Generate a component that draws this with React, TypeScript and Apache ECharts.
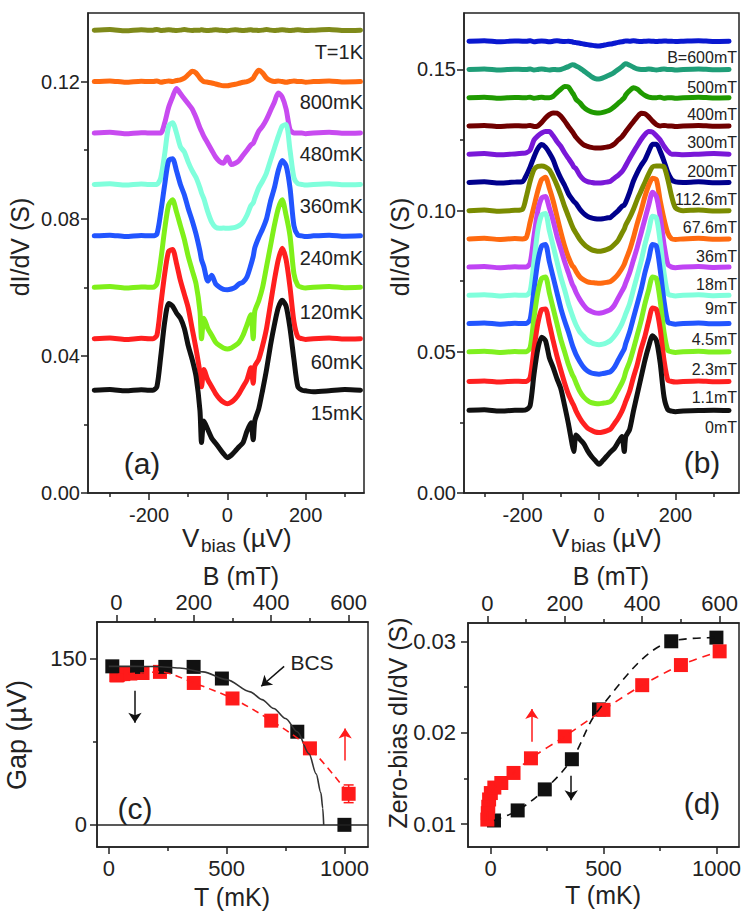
import React, { useEffect, useRef } from "react";
import * as echarts from "echarts";

const FONT = "'Liberation Sans', Arial, Helvetica, sans-serif";
const INK = "#222222";

// ---------- shared bias grid (µV) for spectra panels (a) and (b) ----------
const VBIAS = [
  -340, -300, -260, -220, -200,
  -190, -180, -170, -160, -150, -140, -130, -120, -110, -100, -90, -80, -70, -66, -60,
  -50, -40, -30, -20, -10, 0, 10, 20, 30, 40, 50,
  60, 66, 70, 80, 90, 100, 110, 120, 130, 140, 150, 160, 170, 180, 190,
  200, 220, 260, 300, 340,
];

// ---------- panel (a): dI/dV vs bias at several temperatures ----------
const A_15MK = [
  0.030, 0.0302, 0.0298, 0.0301, 0.030,
  0.030, 0.031, 0.040, 0.050, 0.0553, 0.0545, 0.0525, 0.051, 0.048, 0.043, 0.039, 0.034, 0.024, 0.0147, 0.021,
  0.0185, 0.016, 0.0145, 0.013, 0.0115, 0.0103, 0.011, 0.0122, 0.0135, 0.0147, 0.018,
  0.0205, 0.0155, 0.021, 0.0245, 0.030, 0.036, 0.043, 0.049, 0.054, 0.0562, 0.0545, 0.048, 0.039, 0.031, 0.030,
  0.0298, 0.0295, 0.0298, 0.0302, 0.030,
];
const A_60MK = [
  0.045, 0.0452, 0.0448, 0.0451, 0.045,
  0.045, 0.046, 0.055, 0.064, 0.0705, 0.071, 0.067, 0.062, 0.058, 0.054, 0.048, 0.042, 0.035, 0.031, 0.036,
  0.033, 0.031, 0.029, 0.0275, 0.0265, 0.026, 0.0265, 0.0275, 0.029, 0.031, 0.033,
  0.0365, 0.032, 0.037, 0.039, 0.043, 0.048, 0.055, 0.062, 0.068, 0.0714, 0.068, 0.060, 0.050, 0.0455, 0.045,
  0.0448, 0.045, 0.0452, 0.0449, 0.045,
];
const A_120MK = [
  0.060, 0.0602, 0.0598, 0.0601, 0.060,
  0.060, 0.061, 0.068, 0.077, 0.084, 0.0855, 0.082, 0.078, 0.074, 0.069, 0.065, 0.061, 0.053, 0.045, 0.051,
  0.048, 0.046, 0.044, 0.043, 0.0423, 0.042, 0.0423, 0.043, 0.044, 0.046, 0.049,
  0.052, 0.045, 0.053, 0.056, 0.060, 0.066, 0.072, 0.078, 0.083, 0.0855, 0.081, 0.075, 0.064, 0.0605, 0.060,
  0.0598, 0.060, 0.0602, 0.0599, 0.060,
];
const A_240MK = [
  0.075, 0.0752, 0.0748, 0.0751, 0.075,
  0.075, 0.0755, 0.082, 0.090, 0.097, 0.0975, 0.094, 0.090, 0.087, 0.083, 0.0795, 0.0755, 0.0705, 0.068, 0.066,
  0.0618, 0.0635, 0.061, 0.060, 0.0594, 0.0593, 0.0595, 0.060, 0.061, 0.0615, 0.063,
  0.0665, 0.069, 0.0715, 0.0745, 0.077, 0.080, 0.085, 0.089, 0.094, 0.097, 0.0955, 0.089, 0.078, 0.0752, 0.075,
  0.0748, 0.075, 0.0752, 0.0749, 0.075,
];
const A_360MK = [
  0.090, 0.0902, 0.0898, 0.0901, 0.090,
  0.090, 0.090, 0.092, 0.099, 0.107, 0.108, 0.105, 0.101, 0.0995, 0.0965, 0.094, 0.092, 0.089, 0.0875, 0.0858,
  0.082, 0.079, 0.0775, 0.0772, 0.0773, 0.0772, 0.0773, 0.0775, 0.078, 0.079, 0.081,
  0.0838, 0.0846, 0.086, 0.089, 0.091, 0.0934, 0.097, 0.1005, 0.104, 0.107, 0.1075, 0.100, 0.092, 0.0902, 0.090,
  0.0898, 0.090, 0.0902, 0.0899, 0.090,
];
const A_480MK = [
  0.105, 0.1052, 0.1048, 0.1051, 0.105,
  0.105, 0.105, 0.105, 0.108, 0.1125, 0.1155, 0.118, 0.1165, 0.115, 0.1135, 0.112, 0.1095, 0.1065, 0.1055, 0.104,
  0.102, 0.100, 0.098, 0.0967, 0.0962, 0.098, 0.0958, 0.0962, 0.097, 0.0985, 0.100,
  0.1015, 0.102, 0.103, 0.1055, 0.107, 0.109, 0.1115, 0.114, 0.1167, 0.1155, 0.112, 0.106, 0.105, 0.105, 0.105,
  0.1048, 0.105, 0.1052, 0.1049, 0.105,
];
const A_800MK = [
  0.120, 0.1202, 0.1198, 0.1201, 0.120,
  0.120, 0.1202, 0.1198, 0.120, 0.1202, 0.120, 0.1203, 0.1205, 0.121, 0.122, 0.123, 0.1225, 0.121, 0.1205, 0.120,
  0.1198, 0.1196, 0.1193, 0.119, 0.1188, 0.1188, 0.119, 0.1192, 0.1195, 0.1198, 0.120,
  0.1205, 0.121, 0.1218, 0.1233, 0.1225, 0.121, 0.1203, 0.120, 0.1202, 0.120, 0.1198, 0.120, 0.1202, 0.120, 0.120,
  0.1198, 0.120, 0.1202, 0.1199, 0.120,
];
const A_1K = [
  0.135, 0.1352, 0.1348, 0.1351, 0.135,
  0.135, 0.1352, 0.1349, 0.135, 0.1351, 0.135, 0.1349, 0.135, 0.1352, 0.135, 0.1349, 0.135, 0.135, 0.1351, 0.135,
  0.1349, 0.135, 0.1351, 0.135, 0.1349, 0.1348, 0.135, 0.1351, 0.135, 0.1349, 0.135,
  0.1351, 0.135, 0.135, 0.1349, 0.135, 0.1352, 0.135, 0.1349, 0.135, 0.1351, 0.135, 0.1349, 0.135, 0.1351, 0.135,
  0.1349, 0.135, 0.1352, 0.1349, 0.135,
];
const A_SERIES = [A_15MK, A_60MK, A_120MK, A_240MK, A_360MK, A_480MK, A_800MK, A_1K];
const A_NAMES = ["15mK", "60mK", "120mK", "240mK", "360mK", "480mK", "800mK", "T=1K"];
const A_COLORS = ["#111111", "#ff1f1f", "#7ff01a", "#2255ff", "#80ffdc", "#c84bf0", "#ff6a10", "#7f8a1a"];

// ---------- panel (b): dI/dV vs bias at several fields ----------
const B_0MT = [
  0.0293, 0.0295, 0.0290, 0.0293, 0.0293,
  0.0295, 0.031, 0.042, 0.051, 0.0552, 0.054, 0.048, 0.0445, 0.0405, 0.037, 0.031, 0.0245, 0.017, 0.0147, 0.0205,
  0.019, 0.0175, 0.015, 0.013, 0.0115, 0.0102, 0.0115, 0.013, 0.0145, 0.0158, 0.018,
  0.020, 0.0147, 0.020, 0.0225, 0.029, 0.035, 0.041, 0.047, 0.052, 0.0557, 0.054, 0.046, 0.034, 0.0295, 0.029,
  0.0288, 0.029, 0.0292, 0.0293, 0.0292,
];
const B_1MT = [
  0.0395, 0.0397, 0.0393, 0.0396, 0.0395,
  0.0395, 0.041, 0.051, 0.060, 0.065, 0.0652, 0.060, 0.054, 0.0485, 0.0436, 0.039, 0.035, 0.032, 0.031, 0.029,
  0.0265, 0.0245, 0.023, 0.0222, 0.0216, 0.0214, 0.0216, 0.022, 0.0226, 0.0245, 0.0265,
  0.029, 0.031, 0.0325, 0.036, 0.041, 0.0455, 0.051, 0.0555, 0.061, 0.0655, 0.065, 0.058, 0.047, 0.040, 0.0395,
  0.0393, 0.0395, 0.0397, 0.0394, 0.0395,
];
const B_2MT = [
  0.050, 0.0502, 0.0498, 0.0501, 0.050,
  0.050, 0.0515, 0.062, 0.071, 0.076, 0.0765, 0.071, 0.0655, 0.060, 0.0545, 0.050, 0.0455, 0.042, 0.041, 0.039,
  0.036, 0.034, 0.0328, 0.032, 0.0317, 0.0316, 0.0318, 0.032, 0.0324, 0.034, 0.0365,
  0.039, 0.041, 0.043, 0.0465, 0.051, 0.056, 0.061, 0.067, 0.072, 0.0765, 0.076, 0.068, 0.057, 0.0505, 0.050,
  0.0498, 0.050, 0.0502, 0.0499, 0.050,
];
const B_4MT = [
  0.060, 0.0602, 0.0598, 0.0601, 0.060,
  0.060, 0.0615, 0.072, 0.082, 0.0875, 0.088, 0.082, 0.0765, 0.071, 0.0655, 0.061, 0.057, 0.0525, 0.051, 0.049,
  0.0465, 0.0445, 0.0432, 0.0425, 0.0422, 0.0421, 0.0423, 0.0426, 0.043, 0.0445, 0.047,
  0.0495, 0.051, 0.053, 0.057, 0.062, 0.067, 0.072, 0.078, 0.083, 0.088, 0.0875, 0.079, 0.068, 0.0605, 0.060,
  0.0598, 0.060, 0.0602, 0.0599, 0.060,
];
const B_9MT = [
  0.070, 0.0702, 0.0698, 0.0701, 0.070,
  0.070, 0.0715, 0.082, 0.093, 0.0985, 0.099, 0.093, 0.0875, 0.082, 0.0765, 0.072, 0.067, 0.063, 0.0615, 0.0595,
  0.057, 0.0555, 0.054, 0.0532, 0.0527, 0.0525, 0.0527, 0.0532, 0.054, 0.0555, 0.0575,
  0.060, 0.062, 0.0635, 0.067, 0.072, 0.077, 0.082, 0.088, 0.093, 0.098, 0.0975, 0.089, 0.078, 0.0705, 0.070,
  0.0698, 0.070, 0.0702, 0.0699, 0.070,
];
const B_18MT = [
  0.080, 0.0802, 0.0798, 0.0801, 0.080,
  0.080, 0.0815, 0.091, 0.100, 0.1045, 0.105, 0.101, 0.0965, 0.091, 0.0865, 0.082, 0.078, 0.074, 0.073, 0.071,
  0.0685, 0.0665, 0.065, 0.0643, 0.0638, 0.0637, 0.0639, 0.0644, 0.065, 0.0665, 0.069,
  0.0715, 0.073, 0.0745, 0.078, 0.0825, 0.087, 0.092, 0.097, 0.102, 0.1065, 0.105, 0.098, 0.088, 0.081, 0.080,
  0.0798, 0.080, 0.0802, 0.0799, 0.080,
];
const B_36MT = [
  0.090, 0.0902, 0.0898, 0.0901, 0.090,
  0.0905, 0.096, 0.1015, 0.107, 0.111, 0.1118, 0.108, 0.1035, 0.098, 0.0925, 0.0875, 0.0835, 0.0805, 0.080, 0.0785,
  0.0765, 0.0755, 0.0748, 0.0745, 0.0744, 0.0743, 0.0744, 0.0746, 0.0749, 0.076, 0.0775,
  0.0795, 0.081, 0.0825, 0.086, 0.0905, 0.0955, 0.100, 0.105, 0.109, 0.1115, 0.111, 0.1035, 0.097, 0.092, 0.090,
  0.0898, 0.090, 0.0902, 0.0899, 0.090,
];
const B_67MT = [
  0.100, 0.1002, 0.0998, 0.1001, 0.1005,
  0.105, 0.1105, 0.1145, 0.1157, 0.1158, 0.1155, 0.1145, 0.112, 0.109, 0.1055, 0.1015, 0.098, 0.0945, 0.0933, 0.092,
  0.0898, 0.0882, 0.087, 0.0862, 0.0858, 0.0856, 0.0858, 0.0862, 0.0868, 0.088, 0.0895,
  0.092, 0.0935, 0.095, 0.0975, 0.1005, 0.104, 0.107, 0.110, 0.113, 0.1155, 0.1158, 0.1158, 0.1155, 0.111, 0.105,
  0.101, 0.100, 0.1002, 0.0999, 0.100,
];
const B_112MT = [
  0.110, 0.1102, 0.1098, 0.1101, 0.1103,
  0.1125, 0.1155, 0.119, 0.122, 0.1234, 0.1225, 0.1205, 0.118, 0.1145, 0.1115, 0.109, 0.106, 0.104, 0.1033, 0.1025,
  0.1005, 0.099, 0.098, 0.0974, 0.0971, 0.097, 0.0971, 0.0974, 0.0976, 0.0988, 0.100,
  0.1015, 0.102, 0.103, 0.1065, 0.1105, 0.1135, 0.116, 0.118, 0.121, 0.1235, 0.1235, 0.121, 0.1175, 0.1135, 0.111,
  0.1102, 0.110, 0.1102, 0.1099, 0.110,
];
const B_200MT = [
  0.120, 0.1202, 0.1198, 0.1201, 0.1203,
  0.1205, 0.1215, 0.125, 0.1265, 0.1275, 0.128, 0.128, 0.1265, 0.1245, 0.1228, 0.1205, 0.1185, 0.1165, 0.1155, 0.1148,
  0.1125, 0.111, 0.1103, 0.110, 0.1098, 0.1098, 0.1099, 0.1101, 0.1104, 0.1115, 0.1125,
  0.1138, 0.115, 0.116, 0.1185, 0.1208, 0.123, 0.1252, 0.127, 0.128, 0.1278, 0.1265, 0.125, 0.1228, 0.121, 0.120,
  0.120, 0.1198, 0.120, 0.1202, 0.120,
];
const B_300MT = [
  0.130, 0.1302, 0.1298, 0.1301, 0.130,
  0.130, 0.1302, 0.1298, 0.130, 0.1312, 0.1328, 0.134, 0.1346, 0.1345, 0.1335, 0.1318, 0.1298, 0.128, 0.1272, 0.126,
  0.1245, 0.1233, 0.1228, 0.1224, 0.1222, 0.1222, 0.1223, 0.1225, 0.1228, 0.1236, 0.125,
  0.1262, 0.1272, 0.128, 0.1298, 0.1315, 0.1332, 0.1345, 0.1343, 0.1332, 0.1317, 0.1305, 0.130, 0.1302, 0.130, 0.130,
  0.1298, 0.130, 0.1302, 0.1299, 0.130,
];
const B_400MT = [
  0.140, 0.1402, 0.1398, 0.1401, 0.140,
  0.140, 0.1402, 0.1398, 0.140, 0.1402, 0.140, 0.140, 0.1405, 0.1418, 0.143, 0.144, 0.1438, 0.1418, 0.141, 0.1394,
  0.1382, 0.1366, 0.1356, 0.135, 0.1347, 0.1346, 0.1348, 0.1352, 0.1358, 0.1368, 0.138,
  0.1392, 0.140, 0.141, 0.1425, 0.1435, 0.143, 0.1418, 0.1408, 0.1402, 0.140, 0.140, 0.1402, 0.1398, 0.140, 0.140,
  0.1398, 0.140, 0.1402, 0.1399, 0.140,
];
const B_500MT = [
  0.150, 0.1502, 0.1498, 0.1501, 0.150,
  0.150, 0.1502, 0.1498, 0.150, 0.1502, 0.150, 0.1498, 0.150, 0.1499, 0.150, 0.1505, 0.151, 0.1517, 0.1516, 0.1512,
  0.1505, 0.1495, 0.1485, 0.1475, 0.1468, 0.1466, 0.147, 0.1476, 0.1482, 0.149, 0.150,
  0.151, 0.1518, 0.152, 0.1515, 0.1508, 0.1502, 0.150, 0.150, 0.1502, 0.150, 0.1498, 0.150, 0.1502, 0.150, 0.150,
  0.1498, 0.150, 0.1502, 0.1499, 0.150,
];
const B_600MT = [
  0.160, 0.1602, 0.1598, 0.1601, 0.160,
  0.160, 0.1602, 0.1598, 0.160, 0.1601, 0.160, 0.1598, 0.160, 0.1602, 0.160, 0.1599, 0.160, 0.1598, 0.1596, 0.1595,
  0.1593, 0.159, 0.1588, 0.1586, 0.1584, 0.1583, 0.1585, 0.1588, 0.159, 0.1593, 0.1596,
  0.1598, 0.160, 0.1601, 0.160, 0.1602, 0.160, 0.1599, 0.160, 0.1601, 0.160, 0.1599, 0.160, 0.1601, 0.160, 0.160,
  0.1599, 0.160, 0.1602, 0.1599, 0.160,
];
const B_SERIES = [B_0MT, B_1MT, B_2MT, B_4MT, B_9MT, B_18MT, B_36MT, B_67MT, B_112MT, B_200MT, B_300MT, B_400MT, B_500MT, B_600MT];
const B_NAMES = ["0mT", "1.1mT", "2.3mT", "4.5mT", "9mT", "18mT", "36mT", "67.6mT", "112.6mT", "200mT", "300mT", "400mT", "500mT", "B=600mT"];
const B_COLORS = ["#111111", "#ff2020", "#80f020", "#2255ff", "#80ffdc", "#c044f4", "#ff6a10", "#7a8c00", "#00008c", "#7a18d8", "#700000", "#1f9a00", "#1f9e78", "#0a18d0"];

// ---------- panel (c): gap vs T (black) and vs B (red) ----------
const C_T = [15, 120, 240, 360, 480, 800, 1000];
const C_GAP_T = [143, 142.5, 142.5, 142.5, 132, 84, 0];
const C_B = [0, 1.1, 2.3, 4.5, 9, 18, 36, 67.6, 112.6, 200, 300, 400, 500, 600];
const C_GAP_B = [135, 135, 135, 135.5, 136, 136, 136.5, 137, 138, 128, 114, 94, 69, 28];
const C_ERR_B = [[600, 28, 8]];
const BCS_T = [0, 100, 200, 300, 400, 500, 600, 650, 700, 750, 800, 850, 880, 900, 908, 912];
const BCS_GAP = [143, 143, 142.8, 141.5, 138, 131, 120, 113, 105, 96, 84, 64, 46, 29, 15, 0];

// ---------- panel (d): zero-bias conductance ----------
const D_T = [15, 120, 240, 360, 480, 800, 1000];
const D_G_T = [0.0104, 0.0115, 0.0138, 0.0171, 0.02255, 0.030, 0.0304];
const D_B = [0, 1.1, 2.3, 4.5, 9, 18, 36, 67.6, 112.6, 200, 300, 400, 500, 600];
const D_G_B = [0.0105, 0.0112, 0.0119, 0.0127, 0.0134, 0.014, 0.0145, 0.0156, 0.0172, 0.0196, 0.0225, 0.0252, 0.0274, 0.0289];

// ---------- tick values ----------
const V_TICKS = [-200, 0, 200];
const V_MINOR = [-300, -100, 100, 300];
const A_Y_TICKS = [0, 0.04, 0.08, 0.12];
const A_Y_MINOR = [0.02, 0.06, 0.1];
const B_Y_TICKS = [0, 0.05, 0.1, 0.15];
const B_Y_MINOR = [0.025, 0.075, 0.125];
const T_TICKS = [0, 500, 1000];
const T_MINOR = [250, 750];
const BF_TICKS = [0, 200, 400, 600];
const BF_MINOR = [100, 300, 500];
const C_Y_TICKS = [0, 150];
const C_Y_MINOR = [75];
const D_Y_TICKS = [0.01, 0.02, 0.03];
const D_Y_MINOR = [0.015, 0.025];

// ---------- layout (pixels) ----------
const A_LABEL_Y = [413, 362, 312, 258, 206, 154, 102, 52];
const B_LABEL_Y = [427, 397, 369, 339, 308, 284, 256, 227.5, 199, 171, 142.5, 114, 87.5, 57];

function major(gridIndex: number, position: string, min: number, max: number, ticks: number[], fontSize: number, margin: number, fmt: (v: number) => string) {
  return {
    type: "value", gridIndex, position, min, max,
    axisLine: { show: true, onZero: false, lineStyle: { color: INK, width: 1.5 } },
    axisTick: { show: true, inside: false, length: 7, customValues: ticks, lineStyle: { color: INK, width: 1.5 } },
    axisLabel: { show: true, customValues: ticks, formatter: fmt, color: INK, fontSize, fontFamily: FONT, margin },
    splitLine: { show: false },
  };
}
function minor(gridIndex: number, position: string, min: number, max: number, ticks: number[]) {
  return {
    type: "value", gridIndex, position, min, max,
    axisLine: { show: false, onZero: false },
    axisTick: { show: true, inside: false, length: 4, customValues: ticks, lineStyle: { color: INK, width: 1.5 } },
    axisLabel: { show: false },
    splitLine: { show: false },
  };
}

const f2 = (v: number) => v.toFixed(2);
const f0 = (v: number) => String(Math.round(v));

function txt(text: string, x: number, y: number, size: number, align = "center", rot = 0) {
  return {
    type: "text", x, y, rotation: rot, z: 100, silent: true,
    style: { text, fill: INK, fontSize: size, fontFamily: FONT, align, verticalAlign: "middle" },
  };
}

function arrowLine(p1: number[], p2: number[], color: string) {
  return {
    silent: true, symbol: ["none", "arrow"], symbolSize: 10, label: { show: false },
    lineStyle: { color, width: 1.5, type: "solid", opacity: 1 }, emphasis: { disabled: true },
    data: [[{ coord: p1 }, { coord: p2 }]],
  };
}

function buildOption() {
  const grids = [
    { left: 88, top: 13, width: 276, height: 480 },
    { left: 464, top: 13, width: 275, height: 480 },
    { left: 97, top: 622, width: 271, height: 225 },
    { left: 468, top: 623, width: 271, height: 224 },
  ].map((g) => ({ ...g, show: true, borderColor: INK, borderWidth: 1.5, backgroundColor: "transparent" }));

  const xAxis = [
    major(0, "bottom", -356, 349, V_TICKS, 20, 12, f0),
    minor(0, "bottom", -356, 349, V_MINOR),
    major(1, "bottom", -353, 366, V_TICKS, 20, 12, f0),
    minor(1, "bottom", -353, 366, V_MINOR),
    major(2, "bottom", -50, 1100, T_TICKS, 22, 10, f0),
    minor(2, "bottom", -50, 1100, T_MINOR),
    major(2, "top", -50, 650, BF_TICKS, 22, 9, f0),
    minor(2, "top", -50, 650, BF_MINOR),
    major(3, "bottom", -100, 1100, T_TICKS, 22, 10, f0),
    minor(3, "bottom", -100, 1100, T_MINOR),
    major(3, "top", -50, 650, BF_TICKS, 22, 9, f0),
    minor(3, "top", -50, 650, BF_MINOR),
  ];
  const yAxis = [
    major(0, "left", 0, 0.14, A_Y_TICKS, 20, 8, f2),
    minor(0, "left", 0, 0.14, A_Y_MINOR),
    major(1, "left", 0, 0.17, B_Y_TICKS, 20, 8, f2),
    minor(1, "left", 0, 0.17, B_Y_MINOR),
    major(2, "left", -20, 183, C_Y_TICKS, 22, 10, f0),
    minor(2, "left", -20, 183, C_Y_MINOR),
    major(3, "left", 0.0075, 0.032, D_Y_TICKS, 22, 12, f2),
    minor(3, "left", 0.0075, 0.032, D_Y_MINOR),
  ];

  const series: any[] = [];
  const spectrum = (vals: number[], color: string, xi: number, yi: number, name: string) => ({
    type: "line", name, xAxisIndex: xi, yAxisIndex: yi,
    data: VBIAS.map((v, i) => [v, vals[i]]),
    symbol: "none", showSymbol: false, smooth: 0.25, silent: true,
    lineStyle: { color, width: 5, cap: "round", join: "round", opacity: 1 },
  });
  for (let i = A_SERIES.length - 1; i >= 0; i--) series.push(spectrum(A_SERIES[i], A_COLORS[i], 0, 0, "a" + A_NAMES[i]));
  for (let i = B_SERIES.length - 1; i >= 0; i--) series.push(spectrum(B_SERIES[i], B_COLORS[i], 2, 2, "b" + B_NAMES[i]));

  const RED = "#ff1a1a";
  const BLK = "#111111";
  const sq = (color: string) => ({ color, opacity: 1 });
  // panel (c)
  series.push({
    type: "line", name: "BCS", xAxisIndex: 4, yAxisIndex: 4, silent: true,
    data: BCS_T.map((t, i) => [t, BCS_GAP[i]]), symbol: "none", smooth: 0.3, smoothMonotone: "x",
    lineStyle: { color: "#333", width: 1.6 },
    markLine: {
      silent: true, symbol: ["none", "none"], label: { show: false }, emphasis: { disabled: true },
      lineStyle: { color: INK, width: 1.5, type: "solid", opacity: 1 },
      data: [{ yAxis: 0 }],
    },
  });
  series.push({
    type: "line", name: "bcsArrow", xAxisIndex: 4, yAxisIndex: 4, data: [], silent: true,
    markLine: arrowLine([744, 143], [647, 125], BLK),
  });
  series.push({
    type: "line", name: "cRedLine", xAxisIndex: 6, yAxisIndex: 4, silent: true,
    data: C_B.map((b, i) => [b, C_GAP_B[i]]), symbol: "none", smooth: 0.3,
    lineStyle: { color: RED, width: 1.6, type: [7, 5] },
  });
  series.push({
    type: "custom", name: "cErr", xAxisIndex: 6, yAxisIndex: 4, silent: true, data: C_ERR_B,
    renderItem: (params: any, api: any) => {
      const x = api.value(0), y = api.value(1), e = api.value(2);
      const hi = api.coord([x, y + e]);
      const lo = api.coord([x, y - e]);
      const w = 5;
      const st = { stroke: RED, lineWidth: 1.5 };
      return {
        type: "group", children: [
          { type: "line", shape: { x1: hi[0], y1: hi[1], x2: lo[0], y2: lo[1] }, style: st },
          { type: "line", shape: { x1: hi[0] - w, y1: hi[1], x2: hi[0] + w, y2: hi[1] }, style: st },
          { type: "line", shape: { x1: lo[0] - w, y1: lo[1], x2: lo[0] + w, y2: lo[1] }, style: st },
        ],
      };
    },
  });
  series.push({
    type: "scatter", name: "cRed", xAxisIndex: 6, yAxisIndex: 4, silent: true,
    data: C_B.map((b, i) => [b, C_GAP_B[i]]), symbol: "rect", symbolSize: 14, itemStyle: sq(RED),
    markLine: arrowLine([591, 58], [591, 87], RED),
  });
  series.push({
    type: "scatter", name: "cBlack", xAxisIndex: 4, yAxisIndex: 4, silent: true,
    data: C_T.map((t, i) => [t, C_GAP_T[i]]), symbol: "rect", symbolSize: 14, itemStyle: sq(BLK),
    markLine: arrowLine([111, 121], [111, 92], BLK),
  });
  // panel (d)
  series.push({
    type: "line", name: "dBlackLine", xAxisIndex: 8, yAxisIndex: 6, silent: true,
    data: D_T.map((t, i) => [t, D_G_T[i]]), symbol: "none", smooth: 0.35,
    lineStyle: { color: BLK, width: 1.6, type: [8, 6] },
  });
  series.push({
    type: "scatter", name: "dBlack", xAxisIndex: 8, yAxisIndex: 6, silent: true,
    data: D_T.map((t, i) => [t, D_G_T[i]]), symbol: "rect", symbolSize: 14, itemStyle: sq(BLK),
    markLine: arrowLine([357, 0.0153], [357, 0.0126], BLK),
  });
  series.push({
    type: "line", name: "dRedLine", xAxisIndex: 10, yAxisIndex: 6, silent: true,
    data: D_B.map((b, i) => [b, D_G_B[i]]), symbol: "none", smooth: 0.3,
    lineStyle: { color: RED, width: 1.6, type: [8, 6] },
  });
  series.push({
    type: "scatter", name: "dRed", xAxisIndex: 10, yAxisIndex: 6, silent: true,
    data: D_B.map((b, i) => [b, D_G_B[i]]), symbol: "rect", symbolSize: 14, itemStyle: sq(RED),
    markLine: arrowLine([115, 0.019], [115, 0.0226], RED),
  });

  const graphic: any[] = [];
  A_NAMES.forEach((n, i) => graphic.push(txt(n, 363, A_LABEL_Y[i], 20, "right")));
  B_NAMES.forEach((n, i) => graphic.push(txt(n, 737, B_LABEL_Y[i], 16, "right")));
  graphic.push(txt("(a)", 142, 463, 30));
  graphic.push(txt("(b)", 702, 462, 30));
  graphic.push(txt("(c)", 135, 808, 30));
  graphic.push(txt("(d)", 702, 803, 30));
  graphic.push(txt("BCS", 312, 662, 21));
  // axis titles
  graphic.push(txt("dI/dV (S)", 20, 247, 25, "center", Math.PI / 2));
  graphic.push(txt("dI/dV (S)", 400, 247, 25, "center", Math.PI / 2));
  graphic.push(txt("Gap (\u00b5V)", 17, 735, 27, "center", Math.PI / 2));
  graphic.push(txt("Zero-bias dI/dV (S)", 398, 723, 25, "center", Math.PI / 2));
  [182, 552].forEach((x0) => {
    graphic.push(txt("V", x0, 538, 26, "left"));
    graphic.push(txt("bias", x0 + 19, 545, 19, "left"));
    graphic.push(txt("(\u00b5V)", x0 + 60, 538, 26, "left"));
  });
  graphic.push(txt("T (mK)", 232, 897, 25));
  graphic.push(txt("T (mK)", 603, 895, 25));
  graphic.push(txt("B (mT)", 241, 576, 25));
  graphic.push(txt("B (mT)", 611, 576, 25));

  return {
    animation: false,
    backgroundColor: "#ffffff",
    textStyle: { fontFamily: FONT },
    grid: grids,
    xAxis,
    yAxis,
    series,
    graphic,
  };
}

export default function App() {
  const ref = useRef<HTMLDivElement>(null);
  useEffect(() => {
    if (!ref.current) return;
    const chart = echarts.init(ref.current, null, { renderer: "svg" });
    chart.setOption(buildOption() as any);
    return () => chart.dispose();
  }, []);
  return (
    <div
      ref={ref}
      style={{ position: "fixed", left: 0, top: 0, width: 747, height: 918, background: "#fff" }}
    />
  );
}
